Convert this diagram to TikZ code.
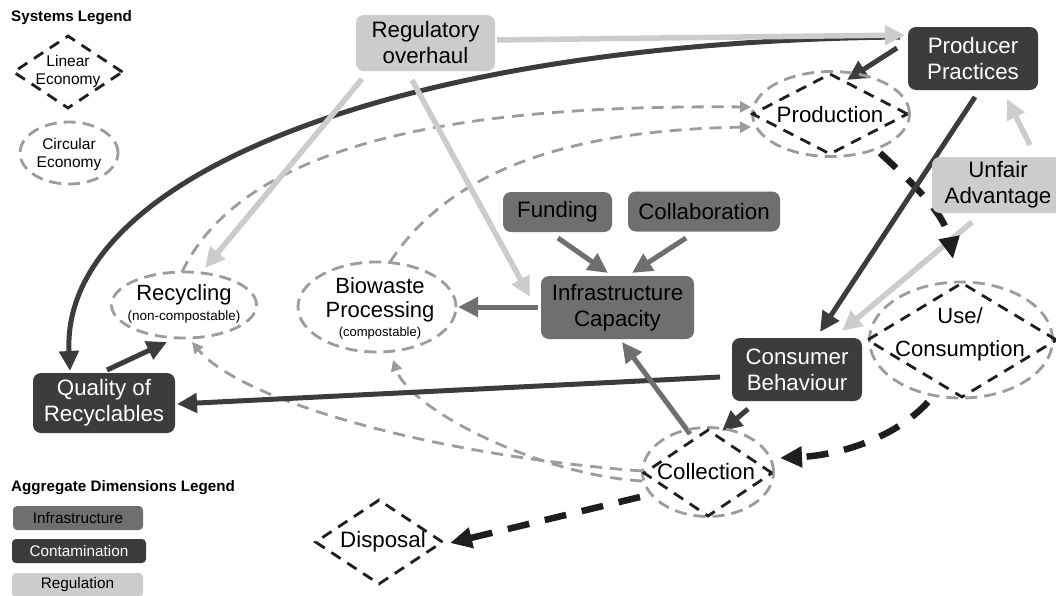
\documentclass[tikz,border=0pt]{standalone}
\usepackage{fontspec}
\setmainfont{Liberation Sans}
\usetikzlibrary{arrows.meta,shapes.geometric}
\definecolor{cdark}{HTML}{3C3C3C}
\definecolor{cmid}{HTML}{6F6F6F}
\definecolor{clight}{HTML}{CCCCCC}
\definecolor{cdash}{HTML}{9C9C9C}
\definecolor{cblk}{HTML}{1E1E1E}
\pgfdeclarelayer{back}
\pgfdeclarelayer{bg}
\pgfsetlayers{back,bg,main}
\begin{document}
\begin{tikzpicture}[x=1pt,y=-1pt,
  txt/.style={font=\fontsize{22.3}{26}\selectfont, align=center, inner sep=0pt},
  box/.style={txt, rounded corners=8pt},
  darkbox/.style={box, fill=cdark, text=white},
  midbox/.style={box, fill=cmid, text=black},
  lightbox/.style={box, fill=clight, text=black},
  legtitle/.style={font=\fontsize{15.2}{18}\selectfont\bfseries, anchor=west, inner sep=0pt},
  legbox/.style={font=\fontsize{15.3}{18}\selectfont, rounded corners=4pt, inner sep=0pt, align=center},
  legtxt/.style={font=\fontsize{15.5}{18}\selectfont, align=center, inner sep=0pt},
  lindia/.style={diamond, draw=cblk, line width=2.8pt, dash pattern=on 11pt off 8pt, inner sep=0pt},
  circell/.style={ellipse, draw=cdash, line width=2.8pt, dash pattern=on 12pt off 7pt, inner sep=0pt},
  darr/.style={draw=cdark, line width=5pt, -{Triangle[length=20pt,width=19pt]}},
  midarr/.style={draw=cmid, line width=5pt, -{Triangle[length=20pt,width=19pt]}},
  larr/.style={draw=clight, line width=5.5pt, -{Triangle[length=20pt,width=19pt]}},
  garr/.style={draw=cdash, line width=2.8pt, dash pattern=on 12pt off 8pt, -{Triangle[length=11pt,width=11pt]}},
  karr/.style={draw=cblk, line width=6.5pt, dash pattern=on 22pt off 16pt, -{Triangle[length=22pt,width=20pt]}},
]
\begin{pgfonlayer}{back}
\fill[white] (0,0) rectangle (1056,595);
\end{pgfonlayer}
\useasboundingbox (0,0) rectangle (1056,595);

% ---- legends
\node[legtitle] (sysleg) at (11,18) {Systems Legend};
\node[lindia, minimum width=110pt, minimum height=73pt] (linD) at (68,72) {};
\node[legtxt] (linT) at (68,71) {Linear\\Economy};
\node[circell, minimum width=98pt, minimum height=62pt] (cirE) at (69,153) {};
\node[legtxt] (cirT) at (69,154) {Circular\\Economy};
\node[legtitle] (aggleg) at (11,488) {Aggregate Dimensions Legend};
\node[legbox, fill=cmid, minimum width=130pt, minimum height=24pt] (legInf) at (78,518) {Infrastructure};
\node[legbox, fill=cdark, text=white, minimum width=134pt, minimum height=24pt] (legCon) at (79,551) {Contamination};
\node[legbox, fill=clight, minimum width=131pt, minimum height=24pt] (legReg) at (77.5,585) {Regulation};

% ---- boxes
\node[lightbox, minimum width=139pt, minimum height=56pt] (reg) at (425.5,43) {Regulatory\\overhaul};
\node[darkbox, minimum width=130pt, minimum height=63pt] (prod) at (973,58.5) {Producer\\Practices};
\node[lightbox, minimum width=132pt, minimum height=56pt] (unf) at (998,185) {Unfair\\Advantage};
\node[midbox, minimum width=109pt, minimum height=40pt] (fund) at (557.5,212) {Funding};
\node[midbox, minimum width=152pt, minimum height=40pt] (coll) at (704,211.5) {Collaboration};
\node[midbox, minimum width=153pt, minimum height=63pt] (infra) at (617.5,307.5) {Infrastructure\\Capacity};
\node[darkbox, minimum width=142pt, minimum height=60pt] (qual) at (104,403) {Quality of\\Recyclables};
\node[darkbox, minimum width=130pt, minimum height=63pt] (cons) at (797,369.5) {Consumer\\Behaviour};

% ---- system nodes
\node[circell, minimum width=157pt, minimum height=85pt] (prodE) at (831,114) {};
\node[lindia, minimum width=156pt, minimum height=81pt] (prodD) at (830,114) {};
\node[txt] (prodT) at (830,115) {Production};
\node[circell, minimum width=183pt, minimum height=116pt] (useE) at (961,340) {};
\node[lindia, minimum width=190pt, minimum height=115pt] (useD) at (962,340) {};
\node[txt, font=\fontsize{22}{33}\selectfont] (useT) at (960,334) {Use/\\Consumption};
\node[circell, minimum width=131pt, minimum height=89pt] (colE) at (708,472) {};
\node[lindia, minimum width=129pt, minimum height=87pt] (colD) at (708,473) {};
\node[txt] (colT) at (706,472) {Collection};
\node[lindia, minimum width=128pt, minimum height=85pt] (dispD) at (379,542) {};
\node[txt] (dispT) at (383,542) {Disposal};
\node[circell, minimum width=145pt, minimum height=66pt] (recE) at (184,305) {};
\node[txt, font=\fontsize{22}{22}\selectfont] (recT) at (184,304) {Recycling\\[-2pt]{\fontsize{13.5}{15}\selectfont(non-compostable)}};
\node[circell, minimum width=158pt, minimum height=90pt] (bioE) at (377,307) {};
\node[txt, font=\fontsize{22}{24}\selectfont] (bioT) at (380,308) {Biowaste\\Processing\\[-5pt]{\fontsize{13}{15}\selectfont(compostable)}};

% ---- connectors
\begin{pgfonlayer}{bg}
\draw[garr] ([shift={(-2,-33)}]recE.center) .. controls (250,130) and (500,105) .. ([shift={(-80,-7)}]prodE.center);
\draw[garr] ([shift={(13,-45)}]bioE.center) .. controls (450,170) and (570,130) .. ([shift={(-80,13)}]prodE.center);
\draw[garr] ([shift={(-66,-1)}]colE.center) .. controls (430,455) and (240,400) .. ([shift={(8,37)}]recE.center);
\draw[garr] ([shift={(-66,9)}]colE.center) .. controls (540,475) and (410,410) .. ([shift={(16,53)}]bioE.center);

\draw[darr] ([shift={(-73,-21.5)}]prod.center) .. controls (400,42) and (60,175) .. ([shift={(-34,-32)}]qual.center);
\draw[larr] ([shift={(71.5,-3)}]reg.center) -- ([shift={(-68,-23.5)}]prod.center);
\draw[larr] ([shift={(-63.5,36)}]reg.center) -- ([shift={(21,-37)}]recE.center);
\draw[larr] ([shift={(-13.5,37)}]reg.center) -- ([shift={(-87.5,-10.5)}]infra.center);
\draw[darr] ([shift={(-76,-10.5)}]prod.center) -- ([shift={(16,-34)}]prodE.center);
\draw[larr] ([shift={(32,-40)}]unf.center) -- ([shift={(34,40.5)}]prod.center);
\draw[larr] ([shift={(-26,37)}]unf.center) -- ([shift={(45,-38.5)}]cons.center);
\draw[karr] ([shift={(50,39)}]prodD.center) .. controls (915,185) and (945,215) .. ([shift={(-9,-81)}]useD.center);
\draw[darr] ([shift={(2,38.5)}]prod.center) -- ([shift={(23,-37.5)}]cons.center);
\draw[karr] ([shift={(-33,62)}]useE.center) .. controls (895,438) and (840,455) .. ([shift={(72,-14)}]colE.center);
\draw[karr] ([shift={(-68,25)}]colE.center) -- ([shift={(71,1)}]dispD.center);
\draw[darr] ([shift={(-77,7.5)}]cons.center) -- ([shift={(73,1)}]qual.center);
\draw[darr] ([shift={(-49,39.5)}]cons.center) -- ([shift={(14,-41)}]colE.center);
\draw[midarr] ([shift={(-18,-38)}]colE.center) -- ([shift={(4.5,34.5)}]infra.center);
\draw[midarr] ([shift={(-79.5,-0.5)}]infra.center) -- ([shift={(81,0)}]bioE.center);
\draw[midarr] ([shift={(0.5,26)}]fund.center) -- ([shift={(-9.5,-34.5)}]infra.center);
\draw[midarr] ([shift={(-18,26.5)}]coll.center) -- ([shift={(14.5,-34.5)}]infra.center);
\draw[darr] ([shift={(3,-33)}]qual.center) -- ([shift={(-17,37)}]recE.center);
\end{pgfonlayer}
\end{tikzpicture}
\end{document}
